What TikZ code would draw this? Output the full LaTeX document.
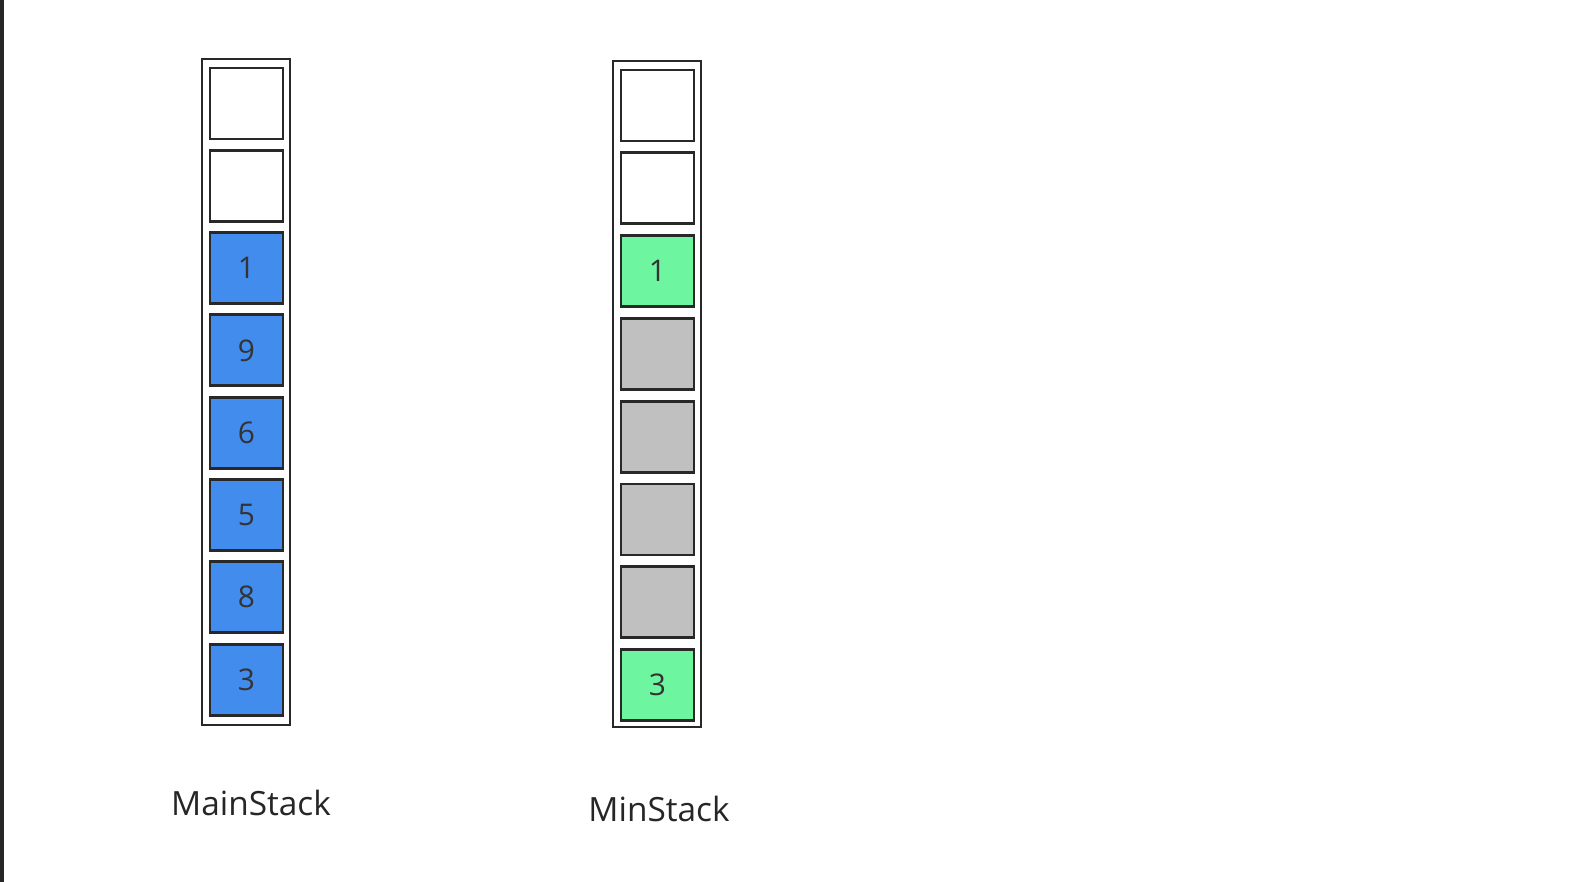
\documentclass[tikz,border=0pt]{standalone}
\usepackage{fontspec}
\setmainfont{Open Sans}
\usepackage{tikz}
\usetikzlibrary{positioning}

\definecolor{cellblue}{RGB}{66,140,238}
\definecolor{cellgreen}{RGB}{110,245,160}
\definecolor{cellgray}{RGB}{192,192,192}
\definecolor{edgegray}{RGB}{40,40,40}

\begin{document}
\begin{tikzpicture}[cell/.style={draw=edgegray,line width=1.6pt,minimum width=1.46cm,minimum height=1.42cm,inner sep=0pt,font=\fontsize{17}{17}\selectfont,text=black!80},
		main/.style={cell,fill=cellblue},
		minv/.style={cell,fill=cellgreen},
		hidden/.style={cell,fill=cellgray},
		free/.style={cell,fill=white},
		frame/.style={draw=edgegray,line width=1.6pt},
		caption/.style={font=\fontsize{19}{19}\selectfont,text=black!85}]
		\useasboundingbox (0,0) rectangle (31.44,-17.64);
		\fill[black!85] (0,0) rectangle (0.08,-17.64);
		% stack frames
		\draw[frame] (4.04,-1.18) rectangle (5.80,-14.50);
		\draw[frame] (12.26,-1.22) rectangle (14.02,-14.54);
		% main stack
		\foreach \v [count=\i from 0] in {{},{},1,9,6,5,8,3} {
			\ifnum\i<2
				\node[free] (m_\i) at (4.93,-2.07-1.646*\i) {\v};
			\else
				\node[main] (m_\i) at (4.93,-2.07-1.646*\i) {\v};
			\fi
		}
		% min stack
		\node[free] (n_0) at (13.15,-2.11) {};
		\node[free] (n_1) [below=0.18cm of n_0] {};
		\node[minv] (n_2) [below=0.18cm of n_1] {1};
		\node[hidden] (n_3) [below=0.18cm of n_2] {};
		\node[hidden] (n_4) [below=0.18cm of n_3] {};
		\node[hidden] (n_5) [below=0.18cm of n_4] {};
		\node[hidden] (n_6) [below=0.18cm of n_5] {};
		\node[minv] (n_7) [below=0.18cm of n_6] {3};
		% captions
		\node[caption] (mainlbl) at (5.02,-16.06) {MainStack};
		\node[caption] (minlbl) at (13.18,-16.18) {MinStack};
	\end{tikzpicture}
\end{document}
